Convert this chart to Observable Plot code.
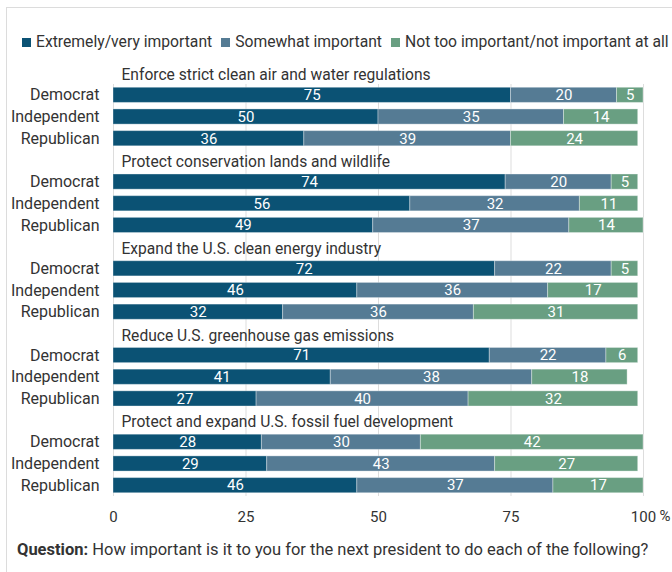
<!DOCTYPE html>
<html>
<head>
<meta charset="utf-8">
<script src="https://cdn.jsdelivr.net/npm/d3@7"></script>
<script src="https://cdn.jsdelivr.net/npm/@observablehq/plot@0.6"></script>
<style>
  html, body { margin: 0; padding: 0; background: #fff; overflow: hidden; }
  body { font-family: Roboto, "Noto Sans", sans-serif; color: #333; }
  #wrap { margin: 7px 0 0 6px; border-top: 1px solid #dcdcdc; border-left: 1px solid #dcdcdc; width: 720px; height: 600px; }
  #legend { padding: 25px 0 5px 15px; height: 18px; line-height: 18px; font-size: 15.7px; display: flex; white-space: nowrap; }
  .item { display: flex; align-items: center; margin-right: 9px; }
  .sw { width: 9px; height: 9px; margin-right: 5px; display: inline-block; }
  #chart svg { display: block; }
  #caption { margin-top: 8px; padding-left: 10px; font-size: 16.5px; line-height: 20px; color: #333; white-space: nowrap; }
</style>
</head>
<body>
<div id="wrap">
  <div id="legend"></div>
  <div id="chart"></div>
  <div id="caption"><b>Question:</b> How important is it to you for the next president to do each of the following?</div>
</div>
<script>
const topics = [
  "Enforce strict clean air and water regulations",
  "Protect conservation lands and wildlife",
  "Expand the U.S. clean energy industry",
  "Reduce U.S. greenhouse gas emissions",
  "Protect and expand U.S. fossil fuel development"
];
const parties = ["Democrat", "Independent", "Republican"];
const responses = ["Extremely/very important", "Somewhat important", "Not too important/not important at all"];
const colors = ["#0b5274", "#557b94", "#699f82"];
// values per topic: [Democrat, Independent, Republican]
const extremely = [[75, 50, 36], [74, 56, 49], [72, 46, 32], [71, 41, 27], [28, 29, 46]];
const somewhat  = [[20, 35, 39], [20, 32, 37], [22, 36, 36], [22, 38, 40], [30, 43, 37]];
const notImp    = [[5, 14, 24], [5, 11, 14], [5, 17, 31], [6, 18, 32], [42, 27, 17]];
const xTicks = [0, 25, 50, 75, 100];
const unitLabel = ["%"];

const series = [extremely, somewhat, notImp];
const rows = [];
const domain = [];
const partyKeys = [];
topics.forEach((t, i) => {
  if (i > 0) domain.push(`${i}|title`);
  parties.forEach((p, j) => {
    const key = `${i}|${p}`;
    domain.push(key);
    partyKeys.push(key);
    responses.forEach((r, k) => {
      rows.push({key, topic: t, party: p, response: r, value: series[k][i][j]});
    });
  });
});

// legend
const legend = document.getElementById("legend");
responses.forEach((r, k) => {
  const it = document.createElement("span");
  it.className = "item";
  it.innerHTML = `<span class="sw" style="background:${colors[k]}"></span>${r}`;
  legend.appendChild(it);
});

const step = 21.67;
const chart = Plot.plot({
  width: 665,
  height: 476,
  marginLeft: 106,
  marginRight: 29,
  marginTop: 28,
  marginBottom: 36,
  style: {fontFamily: "Roboto, 'Noto Sans', sans-serif", fontSize: "14px", color: "#333", background: "transparent"},
  x: {domain: [0, 100]},
  y: {domain, paddingInner: 0.3, paddingOuter: 0.15, round: false},
  color: {domain: responses, range: colors},
  marks: [
    Plot.ruleX(xTicks, {stroke: "#dddddd", strokeWidth: 1}),
    Plot.barX(rows, Plot.stackX({x: "value", y: "key", fill: "response", stroke: "#ffffff", strokeOpacity: 0.35, strokeWidth: 1})),
    Plot.text(rows, Plot.stackX({x: "value", y: "key", text: "value", fill: "white", fontSize: 15})),
    Plot.text(topics, {x: () => xTicks[0], y: (d, i) => `${i}|Democrat`, text: d => d, dy: -20, dx: 8, textAnchor: "start", fontSize: 15.6, fill: "#333"}),
    Plot.axisX({ticks: xTicks, tickSize: 0, tickPadding: 15, fontSize: 15, label: null, fill: "#333"}),
    Plot.text(unitLabel, {x: () => xTicks[xTicks.length - 1], frameAnchor: "bottom", text: d => d, dy: 24, dx: 16, textAnchor: "start", fontSize: 15, fill: "#333"}),
    Plot.axisY({ticks: partyKeys, tickSize: 0, tickPadding: 14, tickFormat: d => d.split("|")[1], fontSize: 16, label: null, fill: "#333"})
  ]
});
document.getElementById("chart").appendChild(chart);
</script>
</body>
</html>
